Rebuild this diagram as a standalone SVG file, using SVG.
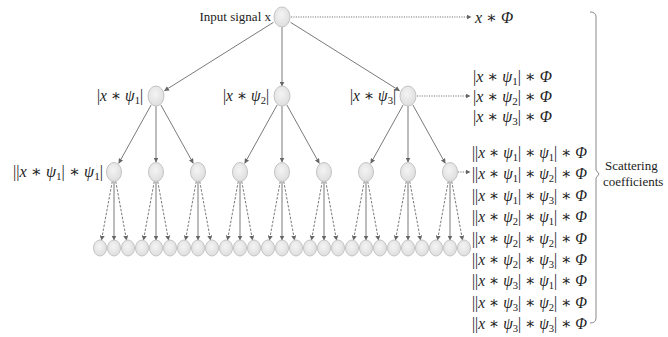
<svg xmlns="http://www.w3.org/2000/svg" width="668" height="337" viewBox="0 0 668 337">
<style>
.f{font-family:"Liberation Serif","DejaVu Serif",serif;font-size:16px;fill:#222}
.t{font-family:"Liberation Serif","DejaVu Serif",serif;font-size:13px;fill:#222}
.i{font-style:italic}
.s{font-size:11px}
.node{fill:url(#g);stroke:#c4c4c4;stroke-width:1}
.sol{stroke:#7a7a7a;stroke-width:1;fill:none;marker-end:url(#ah)}
.dsh{stroke:#7a7a7a;stroke-width:1;fill:none;stroke-dasharray:2.5,1.5;marker-end:url(#ah)}
.dot{stroke:#7a7a7a;stroke-width:1;fill:none;stroke-dasharray:1.2,1.2;marker-end:url(#ah)}
.br{stroke:#8a8a8a;stroke-width:1;fill:none}
</style>
<defs>
<radialGradient id="g" cx="0.45" cy="0.4" r="0.65">
<stop offset="0" stop-color="#f4f4f4"/>
<stop offset="1" stop-color="#dcdcdc"/>
</radialGradient>
<marker id="ah" markerWidth="5" markerHeight="5" refX="4.5" refY="2.5" orient="auto" markerUnits="userSpaceOnUse">
<path d="M0,0 L5,2.5 L0,5 Z" fill="#666"/>
</marker>
</defs>
<g id="connectors">
<line class="sol" x1="273.5" y1="22.3" x2="164.5" y2="90.7"/>
<line class="sol" x1="282" y1="27" x2="282" y2="86"/>
<line class="sol" x1="290.5" y1="22.3" x2="399.5" y2="90.7"/>
<line class="dot" x1="291" y1="17" x2="471" y2="17"/>
<line class="dot" x1="417" y1="96" x2="470" y2="96"/>
<line class="dot" x1="458" y1="172" x2="470" y2="172"/>
<line class="sol" x1="151.2" y1="104.8" x2="118.8" y2="163.2"/>
<line class="sol" x1="156" y1="106" x2="156" y2="162"/>
<line class="sol" x1="160.8" y1="104.8" x2="193.2" y2="163.2"/>
<line class="sol" x1="277.2" y1="104.8" x2="244.8" y2="163.2"/>
<line class="sol" x1="282" y1="106" x2="282" y2="162"/>
<line class="sol" x1="286.8" y1="104.8" x2="319.2" y2="163.2"/>
<line class="sol" x1="403.2" y1="104.8" x2="370.8" y2="163.2"/>
<line class="sol" x1="408" y1="106" x2="408" y2="162"/>
<line class="sol" x1="412.8" y1="104.8" x2="445.2" y2="163.2"/>
<line class="dsh" x1="112.3" y1="181.3" x2="101.45" y2="240.1"/><line class="sol" x1="114" y1="181.5" x2="114" y2="240"/><line class="dsh" x1="115.7" y1="181.3" x2="126.55" y2="240.1"/>
<line class="dsh" x1="154.3" y1="181.3" x2="143.45" y2="240.1"/><line class="sol" x1="156" y1="181.5" x2="156" y2="240"/><line class="dsh" x1="157.7" y1="181.3" x2="168.55" y2="240.1"/>
<line class="dsh" x1="196.3" y1="181.3" x2="185.45" y2="240.1"/><line class="sol" x1="198" y1="181.5" x2="198" y2="240"/><line class="dsh" x1="199.7" y1="181.3" x2="210.55" y2="240.1"/>
<line class="dsh" x1="238.3" y1="181.3" x2="227.45" y2="240.1"/><line class="sol" x1="240" y1="181.5" x2="240" y2="240"/><line class="dsh" x1="241.7" y1="181.3" x2="252.55" y2="240.1"/>
<line class="dsh" x1="280.3" y1="181.3" x2="269.45" y2="240.1"/><line class="sol" x1="282" y1="181.5" x2="282" y2="240"/><line class="dsh" x1="283.7" y1="181.3" x2="294.55" y2="240.1"/>
<line class="dsh" x1="322.3" y1="181.3" x2="311.45" y2="240.1"/><line class="sol" x1="324" y1="181.5" x2="324" y2="240"/><line class="dsh" x1="325.7" y1="181.3" x2="336.55" y2="240.1"/>
<line class="dsh" x1="364.3" y1="181.3" x2="353.45" y2="240.1"/><line class="sol" x1="366" y1="181.5" x2="366" y2="240"/><line class="dsh" x1="367.7" y1="181.3" x2="378.55" y2="240.1"/>
<line class="dsh" x1="406.3" y1="181.3" x2="395.45" y2="240.1"/><line class="sol" x1="408" y1="181.5" x2="408" y2="240"/><line class="dsh" x1="409.7" y1="181.3" x2="420.55" y2="240.1"/>
<line class="dsh" x1="448.3" y1="181.3" x2="437.45" y2="240.1"/><line class="sol" x1="450" y1="181.5" x2="450" y2="240"/><line class="dsh" x1="451.7" y1="181.3" x2="462.55" y2="240.1"/>
</g>
<g id="input">
<ellipse class="node" cx="282" cy="17" rx="8" ry="10"/>
<text class="t" x="271" y="21" text-anchor="end">Input signal x</text>
</g>
<g id="phi0"><text class="f" x="475" y="23"><tspan class="i">x</tspan> ∗ <tspan class="i">Φ</tspan></text></g>
<g id="n1">
<ellipse class="node" cx="156" cy="96" rx="8" ry="10"/>
<text class="f" x="97" y="101" textLength="46" lengthAdjust="spacingAndGlyphs">|<tspan class="i">x</tspan> ∗ <tspan class="i">ψ</tspan><tspan class="s" dy="3">1</tspan><tspan dy="-3">|</tspan></text>
</g>
<g id="n2">
<ellipse class="node" cx="282" cy="96" rx="8" ry="10"/>
<text class="f" x="223" y="101" textLength="46" lengthAdjust="spacingAndGlyphs">|<tspan class="i">x</tspan> ∗ <tspan class="i">ψ</tspan><tspan class="s" dy="3">2</tspan><tspan dy="-3">|</tspan></text>
</g>
<g id="n3">
<ellipse class="node" cx="408" cy="96" rx="8" ry="10"/>
<text class="f" x="350" y="101" textLength="46" lengthAdjust="spacingAndGlyphs">|<tspan class="i">x</tspan> ∗ <tspan class="i">ψ</tspan><tspan class="s" dy="3">3</tspan><tspan dy="-3">|</tspan></text>
</g>
<g id="level2">
<text class="f" x="13" y="177" textLength="90" lengthAdjust="spacingAndGlyphs">||<tspan class="i">x</tspan> ∗ <tspan class="i">ψ</tspan><tspan class="s" dy="3">1</tspan><tspan dy="-3">| ∗ </tspan><tspan class="i">ψ</tspan><tspan class="s" dy="3">1</tspan><tspan dy="-3">|</tspan></text>
<ellipse class="node" cx="114" cy="172" rx="7.5" ry="9.5"/>
<ellipse class="node" cx="156" cy="172" rx="7.5" ry="9.5"/>
<ellipse class="node" cx="198" cy="172" rx="7.5" ry="9.5"/>
<ellipse class="node" cx="240" cy="172" rx="7.5" ry="9.5"/>
<ellipse class="node" cx="282" cy="172" rx="7.5" ry="9.5"/>
<ellipse class="node" cx="324" cy="172" rx="7.5" ry="9.5"/>
<ellipse class="node" cx="366" cy="172" rx="7.5" ry="9.5"/>
<ellipse class="node" cx="408" cy="172" rx="7.5" ry="9.5"/>
<ellipse class="node" cx="450" cy="172" rx="7.5" ry="9.5"/>
</g>
<g id="level3">
<ellipse class="node" cx="100" cy="248" rx="6.5" ry="8"/><ellipse class="node" cx="114" cy="248" rx="6.5" ry="8"/><ellipse class="node" cx="128" cy="248" rx="6.5" ry="8"/>
<ellipse class="node" cx="142" cy="248" rx="6.5" ry="8"/><ellipse class="node" cx="156" cy="248" rx="6.5" ry="8"/><ellipse class="node" cx="170" cy="248" rx="6.5" ry="8"/>
<ellipse class="node" cx="184" cy="248" rx="6.5" ry="8"/><ellipse class="node" cx="198" cy="248" rx="6.5" ry="8"/><ellipse class="node" cx="212" cy="248" rx="6.5" ry="8"/>
<ellipse class="node" cx="226" cy="248" rx="6.5" ry="8"/><ellipse class="node" cx="240" cy="248" rx="6.5" ry="8"/><ellipse class="node" cx="254" cy="248" rx="6.5" ry="8"/>
<ellipse class="node" cx="268" cy="248" rx="6.5" ry="8"/><ellipse class="node" cx="282" cy="248" rx="6.5" ry="8"/><ellipse class="node" cx="296" cy="248" rx="6.5" ry="8"/>
<ellipse class="node" cx="310" cy="248" rx="6.5" ry="8"/><ellipse class="node" cx="324" cy="248" rx="6.5" ry="8"/><ellipse class="node" cx="338" cy="248" rx="6.5" ry="8"/>
<ellipse class="node" cx="352" cy="248" rx="6.5" ry="8"/><ellipse class="node" cx="366" cy="248" rx="6.5" ry="8"/><ellipse class="node" cx="380" cy="248" rx="6.5" ry="8"/>
<ellipse class="node" cx="394" cy="248" rx="6.5" ry="8"/><ellipse class="node" cx="408" cy="248" rx="6.5" ry="8"/><ellipse class="node" cx="422" cy="248" rx="6.5" ry="8"/>
<ellipse class="node" cx="436" cy="248" rx="6.5" ry="8"/><ellipse class="node" cx="450" cy="248" rx="6.5" ry="8"/><ellipse class="node" cx="464" cy="248" rx="6.5" ry="8"/>
</g>
<g id="list1">
<text class="f" x="473" y="81.5">|<tspan class="i">x</tspan> ∗ <tspan class="i">ψ</tspan><tspan class="s" dy="3">1</tspan><tspan dy="-3">| ∗ </tspan><tspan class="i">Φ</tspan></text>
<text class="f" x="473" y="101.5">|<tspan class="i">x</tspan> ∗ <tspan class="i">ψ</tspan><tspan class="s" dy="3">2</tspan><tspan dy="-3">| ∗ </tspan><tspan class="i">Φ</tspan></text>
<text class="f" x="473" y="121.5">|<tspan class="i">x</tspan> ∗ <tspan class="i">ψ</tspan><tspan class="s" dy="3">3</tspan><tspan dy="-3">| ∗ </tspan><tspan class="i">Φ</tspan></text>
</g>
<g id="list2">
<text class="f" x="472" y="158" textLength="115" lengthAdjust="spacingAndGlyphs">||<tspan class="i">x</tspan> ∗ <tspan class="i">ψ</tspan><tspan class="s" dy="3">1</tspan><tspan dy="-3">| ∗ </tspan><tspan class="i">ψ</tspan><tspan class="s" dy="3">1</tspan><tspan dy="-3">| ∗ </tspan><tspan class="i">Φ</tspan></text>
<text class="f" x="472" y="179.4" textLength="115" lengthAdjust="spacingAndGlyphs">||<tspan class="i">x</tspan> ∗ <tspan class="i">ψ</tspan><tspan class="s" dy="3">1</tspan><tspan dy="-3">| ∗ </tspan><tspan class="i">ψ</tspan><tspan class="s" dy="3">2</tspan><tspan dy="-3">| ∗ </tspan><tspan class="i">Φ</tspan></text>
<text class="f" x="472" y="200.8" textLength="115" lengthAdjust="spacingAndGlyphs">||<tspan class="i">x</tspan> ∗ <tspan class="i">ψ</tspan><tspan class="s" dy="3">1</tspan><tspan dy="-3">| ∗ </tspan><tspan class="i">ψ</tspan><tspan class="s" dy="3">3</tspan><tspan dy="-3">| ∗ </tspan><tspan class="i">Φ</tspan></text>
<text class="f" x="472" y="222.2" textLength="115" lengthAdjust="spacingAndGlyphs">||<tspan class="i">x</tspan> ∗ <tspan class="i">ψ</tspan><tspan class="s" dy="3">2</tspan><tspan dy="-3">| ∗ </tspan><tspan class="i">ψ</tspan><tspan class="s" dy="3">1</tspan><tspan dy="-3">| ∗ </tspan><tspan class="i">Φ</tspan></text>
<text class="f" x="472" y="243.6" textLength="115" lengthAdjust="spacingAndGlyphs">||<tspan class="i">x</tspan> ∗ <tspan class="i">ψ</tspan><tspan class="s" dy="3">2</tspan><tspan dy="-3">| ∗ </tspan><tspan class="i">ψ</tspan><tspan class="s" dy="3">2</tspan><tspan dy="-3">| ∗ </tspan><tspan class="i">Φ</tspan></text>
<text class="f" x="472" y="265" textLength="115" lengthAdjust="spacingAndGlyphs">||<tspan class="i">x</tspan> ∗ <tspan class="i">ψ</tspan><tspan class="s" dy="3">2</tspan><tspan dy="-3">| ∗ </tspan><tspan class="i">ψ</tspan><tspan class="s" dy="3">3</tspan><tspan dy="-3">| ∗ </tspan><tspan class="i">Φ</tspan></text>
<text class="f" x="472" y="286.4" textLength="115" lengthAdjust="spacingAndGlyphs">||<tspan class="i">x</tspan> ∗ <tspan class="i">ψ</tspan><tspan class="s" dy="3">3</tspan><tspan dy="-3">| ∗ </tspan><tspan class="i">ψ</tspan><tspan class="s" dy="3">1</tspan><tspan dy="-3">| ∗ </tspan><tspan class="i">Φ</tspan></text>
<text class="f" x="472" y="307.8" textLength="115" lengthAdjust="spacingAndGlyphs">||<tspan class="i">x</tspan> ∗ <tspan class="i">ψ</tspan><tspan class="s" dy="3">3</tspan><tspan dy="-3">| ∗ </tspan><tspan class="i">ψ</tspan><tspan class="s" dy="3">2</tspan><tspan dy="-3">| ∗ </tspan><tspan class="i">Φ</tspan></text>
<text class="f" x="472" y="329.2" textLength="115" lengthAdjust="spacingAndGlyphs">||<tspan class="i">x</tspan> ∗ <tspan class="i">ψ</tspan><tspan class="s" dy="3">3</tspan><tspan dy="-3">| ∗ </tspan><tspan class="i">ψ</tspan><tspan class="s" dy="3">3</tspan><tspan dy="-3">| ∗ </tspan><tspan class="i">Φ</tspan></text>
</g>
<g id="brace">
<path class="br" d="M590,12 Q596,12 596,17 L596,170 L599,174 L596,178 L596,318 Q596,323 590,323"/>
<text class="t" x="605" y="170">Scattering</text>
<text class="t" x="603" y="186">coefficients</text>
</g>
</svg>
